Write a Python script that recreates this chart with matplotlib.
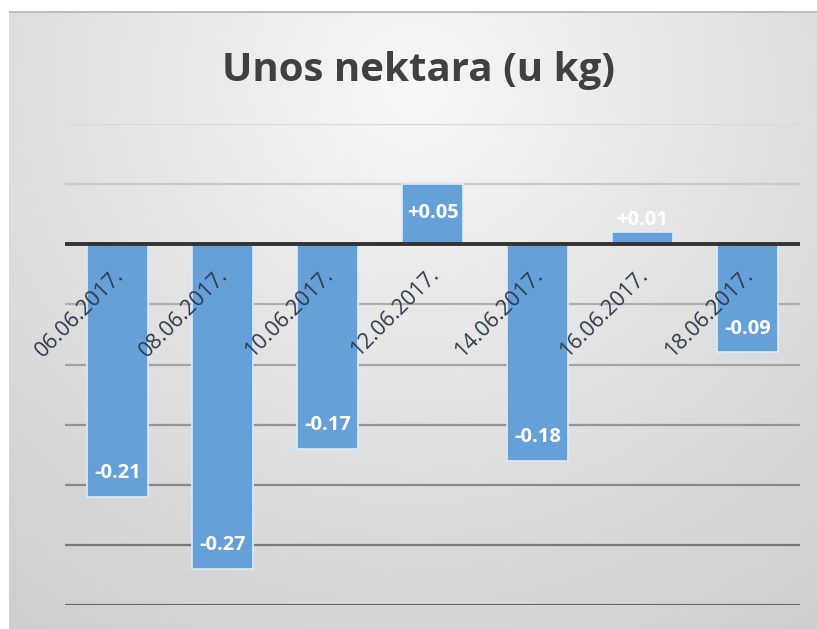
import numpy as np
import matplotlib
matplotlib.use("Agg")
import matplotlib.pyplot as plt
from matplotlib.colors import LinearSegmentedColormap

title = "Unos nektara (u kg)"
dates = ["06.06.2017.", "08.06.2017.", "10.06.2017.", "12.06.2017.",
         "14.06.2017.", "16.06.2017.", "18.06.2017."]
values = [-0.21, -0.27, -0.17, 0.05, -0.18, 0.01, -0.09]
labels = ["-0.21", "-0.27", "-0.17", "+0.05", "-0.18", "+0.01", "-0.09"]
grid_levels = [0.10, 0.05, -0.05, -0.10, -0.15, -0.20, -0.25, -0.30]

W, H = 817, 629
fig = plt.figure(figsize=(W / 100, H / 100), dpi=100)
fig.patch.set_facecolor("white")

# background panel with radial-ish gradient
bg = fig.add_axes([9 / W, 0, 1 - 9 / W, 1 - 11 / H])
bg.set_axis_off()
ny, nx = 300, 400
yy, xx = np.mgrid[0:ny, 0:nx]
cx, cy = nx * 0.5, ny * 0.12
d = np.sqrt(((xx - cx) / nx) ** 2 * 1.6 + ((yy - cy) / ny) ** 2)
d = np.clip(d / d.max(), 0, 1)
cmap = LinearSegmentedColormap.from_list("bg", ["#F7F7F7", "#E2E2E2", "#CECECE"])
bg.imshow(d, cmap=cmap, aspect="auto", extent=[0, 1, 0, 1], origin="upper")
bg.set_xlim(0, 1)
bg.set_ylim(0, 1)
bg.plot([0, 1], [0.999, 0.999], color="#BDBDBD", lw=1.5)

ax = fig.add_axes([65 / W, 1 - 605 / H, 735 / W, (605 - 124) / H])
ax.patch.set_alpha(0)
for s in ax.spines.values():
    s.set_visible(False)
ax.set_xlim(-0.5, len(values) - 0.5)
ax.set_ylim(-0.30, 0.10)
ax.set_xticks([])
ax.set_yticks([])

# gridlines, getting darker toward the bottom
for lv in grid_levels:
    t = (0.10 - lv) / 0.40
    g = 0.85 - 0.43 * t
    ax.axhline(lv, color=(g, g, g), lw=1.6, zorder=1)

x = np.arange(len(values))
ax.bar(x, values, width=0.59, color="#65A0D9", edgecolor="#DDEBF7",
       linewidth=1.2, zorder=2)
ax.axhline(0, color="#333333", lw=2.8, zorder=4)

for xi, v, lab in zip(x, values, labels):
    if v < 0:
        off = 17
    elif v >= 0.03:
        off = -21
    else:
        off = 9
    ax.annotate(lab, (xi, v), xytext=(0, off), textcoords="offset points",
                ha="center", va="center", color="white", fontsize=14.5,
                fontweight="bold", family="Open Sans", zorder=5)

for xi, d_ in zip(x, dates):
    ax.annotate(d_, (xi, 0), xytext=(2, -20), textcoords="offset points",
                ha="right", va="center", rotation=45, rotation_mode="anchor",
                color="#2F3B4C", fontsize=15.5, family="Open Sans", zorder=6)

fig.text(0.512, 1 - 70 / H, title, ha="center", va="center", fontsize=29,
         fontweight="bold", family="Open Sans", color="#404040")

fig.savefig("out.png", dpi=100)
